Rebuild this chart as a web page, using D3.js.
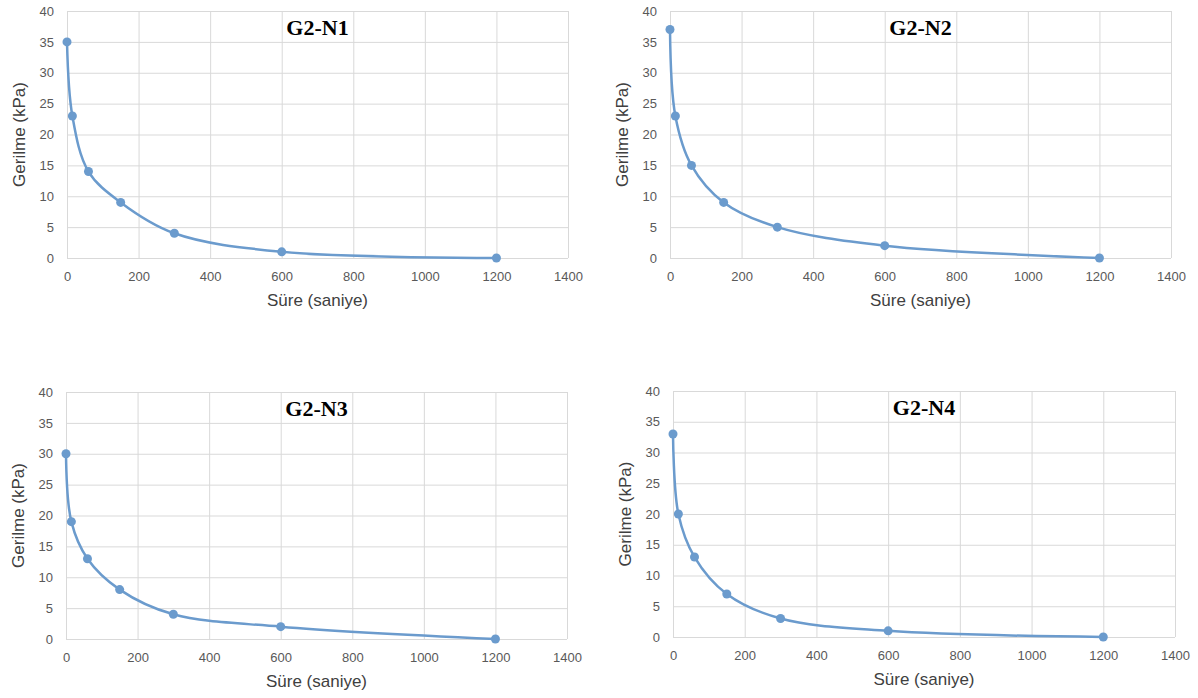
<!DOCTYPE html>
<html>
<head>
<meta charset="utf-8">
<script src="https://cdn.jsdelivr.net/npm/d3@7"></script>
<style>
  body { margin: 0; background: #fff; }
  svg { display: block; }
</style>
</head>
<body>
<svg id="chart" width="1198" height="698"></svg>
<script>
// data
const sureler = [0, 15, 60, 150, 300, 600, 1200];
const titles = ["G2-N1", "G2-N2", "G2-N3", "G2-N4"];
const n1 = [35, 23, 14, 9, 4, 1, 0];
const n2 = [37, 23, 15, 9, 5, 2, 0];
const n3 = [30, 19, 13, 8, 4, 2, 0];
const n4 = [33, 20, 13, 7, 3, 1, 0];
const xTicks = [0, 200, 400, 600, 800, 1000, 1200, 1400];
const yTicks = [0, 5, 10, 15, 20, 25, 30, 35, 40];

const series = [n1, n2, n3, n4];

// plot rectangles of the four panels
const boxes = [
  { l: 67, r: 568, t: 11, b: 258 },
  { l: 670, r: 1171, t: 11, b: 258 },
  { l: 66, r: 567, t: 392, b: 639 },
  { l: 673, r: 1175, t: 391, b: 637 }
];

const svg = d3.select("#chart");
const blue = "#6b9bcd";
const grid = "#d9d9d9";
const tickColor = "#595959";

series.forEach(function(vals, i) {
  const box = boxes[i];
  const x = d3.scaleLinear().domain([0, 1400]).range([box.l, box.r]);
  const y = d3.scaleLinear().domain([0, 40]).range([box.b, box.t]);
  const g = svg.append("g");

  // gridlines
  g.selectAll(".hg").data(yTicks).enter().append("line")
    .attr("x1", box.l).attr("x2", box.r)
    .attr("y1", d => y(d) + 0.5).attr("y2", d => y(d) + 0.5)
    .attr("stroke", grid).attr("stroke-width", 1);
  g.selectAll(".vg").data(xTicks).enter().append("line")
    .attr("y1", box.t).attr("y2", box.b)
    .attr("x1", d => x(d) + 0.5).attr("x2", d => x(d) + 0.5)
    .attr("stroke", grid).attr("stroke-width", 1);

  // axes (labels only, Excel style)
  const xa = g.append("g").attr("transform", "translate(0," + box.b + ")")
    .call(d3.axisBottom(x).tickValues(xTicks).tickFormat(d3.format("d")).tickSize(0).tickPadding(14));
  const ya = g.append("g").attr("transform", "translate(" + box.l + ",0)")
    .call(d3.axisLeft(y).tickValues(yTicks).tickFormat(d3.format("d")).tickSize(0).tickPadding(13));
  [xa, ya].forEach(function(a) {
    a.select(".domain").remove();
    a.selectAll("text")
      .attr("fill", tickColor)
      .style("font-family", "'Liberation Sans', Arial, sans-serif")
      .style("font-size", "13px");
  });

  // axis titles
  g.append("text")
    .attr("x", (box.l + box.r) / 2)
    .attr("y", box.b + 48)
    .attr("text-anchor", "middle")
    .attr("fill", "#404040")
    .style("font-family", "'Liberation Sans', Arial, sans-serif")
    .style("font-size", "17px")
    .text("Süre (saniye)");
  g.append("text")
    .attr("transform", "translate(" + (box.l - 42) + "," + ((box.t + box.b) / 2) + ") rotate(-90)")
    .attr("text-anchor", "middle")
    .attr("fill", "#404040")
    .style("font-family", "'Liberation Sans', Arial, sans-serif")
    .style("font-size", "17px")
    .text("Gerilme (kPa)");

  // panel title
  g.append("text")
    .attr("x", (box.l + box.r) / 2 + 0)
    .attr("y", box.t + 24)
    .attr("text-anchor", "middle")
    .attr("fill", "#000")
    .style("font-family", "'Liberation Serif', 'Times New Roman', serif")
    .style("font-weight", "bold")
    .style("font-size", "22px")
    .text(titles[i]);

  const pts = sureler.map((s, k) => [s, vals[k]]);
  const line = d3.line()
    .x(d => x(d[0])).y(d => y(d[1]))
    .curve(d3.curveCatmullRom.alpha(0.5));

  g.append("path")
    .datum(pts)
    .attr("d", line)
    .attr("fill", "none")
    .attr("stroke", blue)
    .attr("stroke-width", 2.5);

  g.selectAll(".pt").data(pts).enter().append("circle")
    .attr("cx", d => x(d[0])).attr("cy", d => y(d[1]))
    .attr("r", 4.5)
    .attr("fill", blue);
});
</script>
</body>
</html>
